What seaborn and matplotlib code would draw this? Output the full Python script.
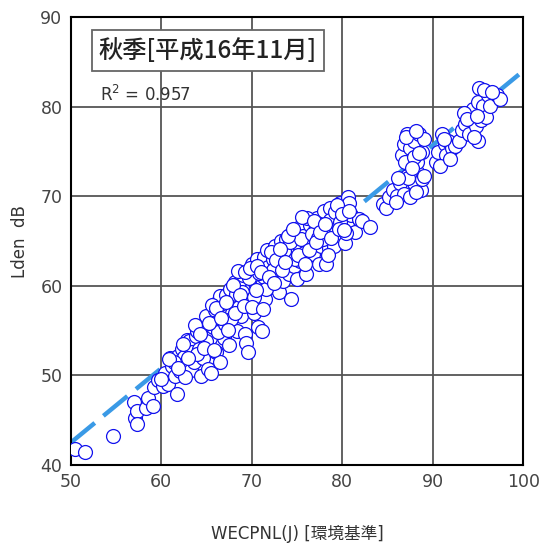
import numpy as np
import pandas as pd
import matplotlib
matplotlib.use('Agg')
import matplotlib.pyplot as plt
from matplotlib.ticker import MultipleLocator
import seaborn as sns

# WECPNL (x) vs Lden (y)
wecpnl = [
    # low end
    50.5, 51.6, 54.7, 57.0, 57.1, 57.3, 57.3, 58.3, 58.5, 59.1, 59.2, 59.6,
    # 60-65
    60.2, 60.4, 60.8, 61.0, 61.2, 61.5, 61.7, 61.9, 62.1, 62.3, 62.5, 62.7,
    62.9, 63.1, 63.3, 63.4, 63.6, 63.8, 64.0, 64.2, 64.4, 64.6, 64.8,
    # 65-69
    65.0, 65.1, 65.2, 65.4, 65.5, 65.7, 65.9, 66.0, 66.2, 66.4, 66.5, 66.5,
    66.7, 66.9, 66.9, 67.1, 67.3, 67.5, 67.6, 67.8, 68.0, 68.2, 68.4, 68.6,
    68.8, 68.8, 69.0,
    # 69-72.6
    69.2, 69.4, 69.5, 69.6, 69.6, 69.9, 70.0, 70.1, 70.3, 70.4, 70.6, 70.7,
    70.9, 71.1, 71.1, 71.3, 71.4, 71.5, 71.7, 71.8, 72.0, 72.2, 72.4, 72.6,
    # 72.8-76.4
    72.8, 73.0, 73.2, 73.4, 73.5, 73.8, 73.9, 74.1, 74.3, 74.4, 74.5, 74.7,
    74.9, 75.0, 75.2, 75.3, 75.5, 75.7, 75.8, 76.0, 76.2, 76.4,
    # 76.6-83
    76.6, 76.8, 77.0, 77.2, 77.4, 77.6, 77.8, 78.0, 78.2, 78.3, 78.5, 78.7,
    78.9, 79.1, 79.3, 79.5, 79.7, 79.9, 80.1, 80.3, 80.5, 80.6, 80.8, 81.0,
    81.4, 81.8, 82.2, 83.1,
    # extra points in the dense band
    61.4, 62.6, 63.9, 64.9, 65.6, 66.3, 67.0, 67.7, 68.3, 68.9, 69.7, 70.2,
    70.8, 71.6, 72.3, 72.9, 73.6, 74.2, 74.8, 75.4, 76.1, 76.7, 77.3, 77.9,
    78.6, 79.2, 79.8, 80.4,
    60.0, 60.9, 61.8, 62.4, 63.0, 63.7, 64.3, 64.7, 65.3, 65.8,
    66.1, 66.6, 67.2, 67.4, 67.9, 68.1, 68.5, 68.7, 69.1, 69.3,
    69.8, 70.0, 70.5, 70.6, 71.0, 71.2, 71.9, 72.1, 72.5, 72.7,
    73.1, 73.3, 73.7, 74.0, 74.6, 75.1, 75.6, 75.9, 76.3, 76.9,
    77.1, 77.5, 78.1, 78.4, 78.8, 79.4, 79.6, 80.0, 80.2, 80.7,
    # 84-89
    84.5, 84.8, 85.2, 85.6, 86.0, 86.4, 86.8, 87.1, 87.5, 87.9, 88.3, 88.7,
    88.8, 89.0, 86.6, 86.8, 87.1, 87.5, 87.9, 88.3, 88.5, 88.8, 89.0, 86.9,
    87.9, 87.3, 88.1, 85.9, 86.2, 87.7, 88.5, 87.0, 88.2,
    # 90-97.5
    90.4, 90.6, 91.0, 91.3, 91.5, 91.7, 92.1, 90.8, 92.5, 92.9, 93.2, 93.6,
    94.0, 94.2, 94.4, 94.8, 95.0, 95.1, 95.3, 95.5, 95.9, 96.1, 96.3, 97.1,
    97.4, 95.0, 94.6, 93.4, 91.2, 91.9, 93.8, 94.9, 95.7, 96.6,
]
lden = [
    41.8, 41.5, 43.2, 47.0, 45.2, 46.0, 44.6, 46.4, 47.5, 46.6, 48.7, 49.5,
    48.8, 50.3, 49.1, 52.0, 51.1, 49.9, 47.9, 52.2, 50.5, 53.0, 52.1, 51.1,
    54.0, 53.8, 50.6, 52.6, 51.5, 54.4, 55.0, 53.0, 49.9, 51.9, 55.8,
    56.6, 53.5, 50.7, 54.2, 50.3, 55.4, 57.3, 52.6, 56.0, 58.4, 51.5, 58.9,
    55.2, 54.2, 57.3, 59.0, 56.6, 53.4, 59.7, 57.0, 58.1, 60.4, 55.0, 57.6,
    60.5, 56.6, 61.2,
    54.6, 53.6, 59.0, 52.6, 58.1, 59.7, 62.5, 61.7, 57.0, 60.3, 63.0, 55.4,
    58.9, 55.0, 60.1, 63.2, 61.0, 58.5, 64.0, 62.1, 59.9, 60.5, 63.0, 64.4,
    62.0, 59.3, 65.0, 62.8, 60.6, 65.2, 63.5, 61.3, 58.5, 66.0, 64.4, 62.2,
    66.4, 60.8, 64.6, 62.8, 66.9, 65.6, 63.7, 61.3, 65.0, 66.8,
    64.4, 63.6, 66.2, 67.6, 62.5, 64.4, 66.8, 68.4, 62.4, 66.0, 64.2, 68.7,
    67.0, 64.4, 66.0, 67.6, 69.3, 65.6, 68.5, 64.8, 66.8, 69.9, 69.2, 67.9,
    66.0, 67.5, 67.2, 66.6,
    51.5, 49.8, 52.4, 53.9, 57.9, 54.8, 55.8, 56.3, 59.1, 59.3, 60.9, 58.8,
    61.4, 59.6, 61.8, 63.6, 63.9, 64.9, 63.0, 65.2, 67.6, 65.8, 65.3, 65.2,
    67.4, 68.2, 67.1, 65.9,
    49.6, 51.8, 50.8, 53.5, 51.9, 55.6, 54.6, 53.1, 55.9, 52.9,
    57.5, 56.4, 58.2, 55.1, 60.1, 57.0, 61.7, 59.0, 57.8, 61.6,
    62.0, 57.7, 59.5, 62.2, 61.6, 57.4, 61.0, 63.8, 60.3, 62.9,
    64.1, 61.8, 62.7, 65.6, 66.3, 63.5, 67.7, 62.4, 64.0, 67.3,
    64.9, 66.0, 66.9, 63.5, 65.4, 69.0, 66.4, 68.0, 66.2, 68.4,
    69.1, 68.7, 69.9, 70.7, 70.0, 71.5, 70.3, 72.3, 69.9, 71.5, 72.7, 70.7,
    71.9, 72.3, 74.6, 75.8, 77.0, 75.4, 76.2, 73.8, 77.0, 75.0, 76.4, 73.8,
    74.4, 72.0, 70.5, 69.4, 72.0, 73.2, 74.8, 76.6, 77.3,
    73.8, 75.0, 77.0, 75.8, 74.6, 76.2, 75.4, 73.4, 75.6, 76.2, 77.4, 78.1,
    77.0, 78.9, 79.7, 77.8, 80.5, 82.1, 78.5, 80.1, 78.9, 81.3, 80.1, 81.3,
    80.9, 76.2, 76.6, 79.3, 76.4, 74.2, 78.6, 79.0, 81.9, 81.6,
]

# regression line end points
fit_x = [50, 100]
fit_y = [42.5, 84.0]

title_text = '秋季[平成16年11月]'
r2_text = 'R$^2$ = 0.957'

sns.set_style('white')
plt.rcParams['font.family'] = ['DejaVu Sans', 'Noto Sans CJK JP']

df = pd.DataFrame({'WECPNL': wecpnl, 'Lden': lden})
line_df = pd.DataFrame({'x': fit_x, 'y': fit_y})

fig = plt.figure(figsize=(5.4, 5.53), dpi=100)
ax = fig.add_axes([0.131, 0.159, 0.838, 0.810])

sns.lineplot(data=line_df, x='x', y='y', ax=ax, color='#3a9ae6', linewidth=3.2, zorder=2)
ax.lines[0].set_dashes([7, 2.5])

sns.scatterplot(data=df, x='WECPNL', y='Lden', ax=ax, s=100, marker='o',
                facecolor='white', edgecolor='#1212ee', linewidth=0.9, zorder=3)

ax.set_xlim(50, 100)
ax.set_ylim(40, 90)
ax.xaxis.set_major_locator(MultipleLocator(10))
ax.yaxis.set_major_locator(MultipleLocator(10))
ax.xaxis.set_minor_locator(MultipleLocator(2))
ax.yaxis.set_minor_locator(MultipleLocator(2))
ax.grid(True, which='major', color='#555555', linewidth=1.3, zorder=1)
ax.set_axisbelow(True)
ax.tick_params(which='major', direction='out', length=4, width=1.2, labelsize=12.5,
               labelcolor='#444444', pad=2)
ax.tick_params(which='minor', direction='in', length=3, width=1.2)
for s in ax.spines.values():
    s.set_color('black')
    s.set_linewidth(1.5)

ax.set_xlabel('WECPNL(J) [環境基準]', fontsize=12, color='#333333', labelpad=24,
              family=['DejaVu Sans', 'Noto Sans CJK JP'])
ax.set_ylabel('Lden  dB', fontsize=12, color='#333333', labelpad=8)

ax.text(0.062, 0.925, title_text, transform=ax.transAxes, fontsize=17.5,
        va='center', ha='left', color='#222222', zorder=5, fontweight='medium',
        family=['Noto Sans CJK JP', 'DejaVu Sans'],
        bbox=dict(boxstyle='square,pad=0.3', facecolor='white', edgecolor='#666666', linewidth=1.3))
ax.text(0.064, 0.827, r2_text, transform=ax.transAxes, fontsize=12,
        va='center', ha='left', color='#333333', zorder=5)

fig.savefig('out.png', dpi=100)
